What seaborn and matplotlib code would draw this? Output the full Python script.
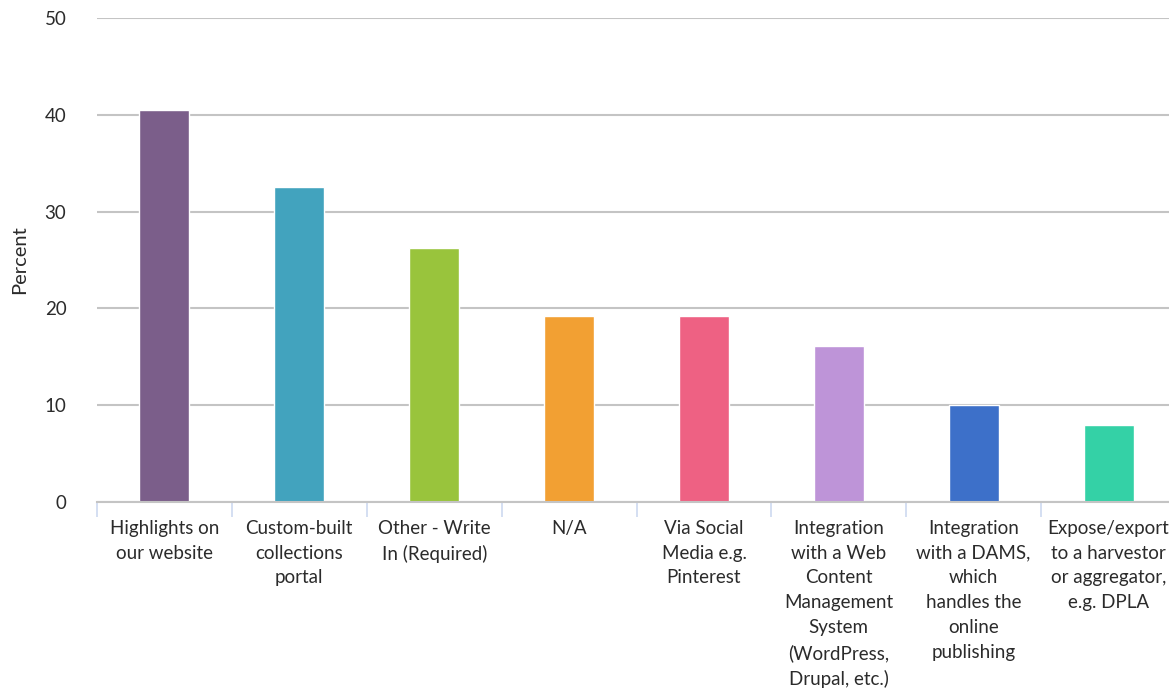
import matplotlib
matplotlib.use("Agg")
import matplotlib.pyplot as plt
import seaborn as sns
import pandas as pd
import numpy as np
from matplotlib.ticker import FixedLocator

categories = [
    "Highlights on\nour website",
    "Custom-built\ncollections\nportal",
    "Other - Write\nIn (Required)",
    "N/A",
    "Via Social\nMedia e.g.\nPinterest",
    "Integration\nwith a Web\nContent\nManagement\nSystem\n(WordPress,\nDrupal, etc.)",
    "Integration\nwith a DAMS,\nwhich\nhandles the\nonline\npublishing",
    "Expose/export\nto a harvestor\nor aggregator,\ne.g. DPLA",
]
percent = [40.5, 32.5, 26.2, 19.2, 19.2, 16.1, 10.0, 8.0]
colors = ["#7B5E8A", "#42A3BE", "#99C43C", "#F2A033",
          "#EE6183", "#BE94D8", "#3D70C9", "#34D1A6"]
yticks = [0, 10, 20, 30, 40, 50]

sns.set_theme(style="white")
plt.rcParams["font.family"] = ["Lato", "DejaVu Sans"]

df = pd.DataFrame({"category": categories, "percent": percent})

fig = plt.figure(figsize=(11.69, 6.88), dpi=100)
ax = fig.add_axes([97 / 1169, 1 - 502 / 688, (1176 - 97) / 1169, 484 / 688])

sns.barplot(data=df, x="category", y="percent", hue="category",
            palette=colors, width=0.37, legend=False, ax=ax,
            saturation=1)

ax.set_ylim(0, 50)
ax.set_xlim(-0.5, len(categories) - 0.5)
ax.set_yticks(yticks)
ax.yaxis.grid(True, color="#c4c4c4", linewidth=1.5)
ax.set_axisbelow(True)
for s in ["top", "right", "left"]:
    ax.spines[s].set_visible(False)
ax.spines["bottom"].set_color("#c4c4c4")
ax.spines["bottom"].set_linewidth(1.5)

text_color = "#2b2b2b"
ax.tick_params(axis="y", length=0, pad=22, labelsize=13.5, labelcolor=text_color)
ax.tick_params(axis="x", which="major", length=0, pad=13, labelsize=13.5,
               labelcolor=text_color)
ax.xaxis.set_minor_locator(FixedLocator(np.arange(-0.5, len(categories), 1.0)))
ax.tick_params(axis="x", which="minor", bottom=True, length=11, width=1.2,
               color="#cdd9f0", direction="out")
ax.set_xlabel("")
ax.set_ylabel("Percent", fontsize=14.5, color=text_color, labelpad=12)
for lbl in ax.get_xticklabels():
    lbl.set_horizontalalignment("center")
    lbl.set_multialignment("center")
    lbl.set_linespacing(1.55)

fig.savefig("out.png", dpi=100)
